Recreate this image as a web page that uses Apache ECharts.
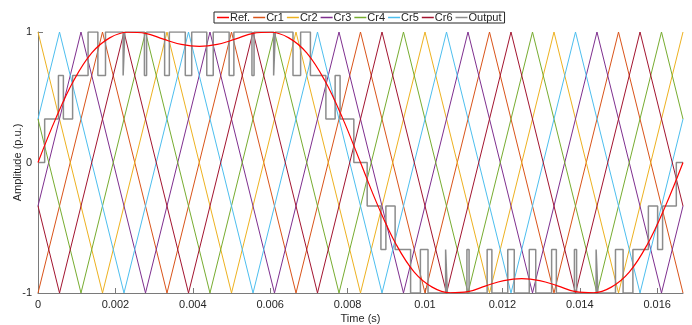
<!DOCTYPE html>
<html>
<head>
<meta charset="utf-8">
<script src="https://cdn.jsdelivr.net/npm/echarts@6/dist/echarts.min.js"></script>
<style>
  html, body { margin: 0; padding: 0; background: #fff; }
  #chart { width: 692px; height: 325px; }
</style>
</head>
<body>
<div id="chart"></div>
<script>
// reference (p.u.) sampled every 10 deg of the 60 Hz cycle
const refTime = [0, 0.000463, 0.000926, 0.001389, 0.001852, 0.002315, 0.002778, 0.003241, 0.003704, 0.004167,
  0.00463, 0.005093, 0.005556, 0.006019, 0.006481, 0.006944, 0.007407, 0.00787, 0.008333,
  0.008796, 0.009259, 0.009722, 0.010185, 0.010648, 0.011111, 0.011574, 0.012037, 0.0125,
  0.012963, 0.013426, 0.013889, 0.014352, 0.014815, 0.015278, 0.015741, 0.016204, 0.016667]
const refValue = [0, 0.34, 0.63, 0.84, 0.955, 0.998, 0.99, 0.945, 0.905, 0.89,
  0.905, 0.945, 0.99, 0.998, 0.955, 0.84, 0.63, 0.34, 0,
  -0.34, -0.63, -0.84, -0.955, -0.998, -0.99, -0.945, -0.905, -0.89,
  -0.905, -0.945, -0.99, -0.998, -0.955, -0.84, -0.63, -0.34, 0]

// carrier corner points
const crTimeA = [0, 0.001667, 0.003333, 0.005, 0.006667, 0.008333, 0.01, 0.011667, 0.013333, 0.015, 0.016667]
const cr1 = [-1, 1, -1, 1, -1, 1, -1, 1, -1, 1, -1]
const cr2 = [1, -1, 1, -1, 1, -1, 1, -1, 1, -1, 1]
const crTimeB = [0, 0.001111, 0.002778, 0.004444, 0.006111, 0.007778, 0.009444, 0.011111, 0.012778, 0.014444, 0.016111, 0.016667]
const cr3 = [-0.3333, 1, -1, 1, -1, 1, -1, 1, -1, 1, -1, -0.3333]
const cr4 = [0.3333, -1, 1, -1, 1, -1, 1, -1, 1, -1, 1, 0.3333]
const crTimeC = [0, 0.000556, 0.002222, 0.003889, 0.005556, 0.007222, 0.008889, 0.010556, 0.012222, 0.013889, 0.015556, 0.016667]
const cr5 = [0.3333, 1, -1, 1, -1, 1, -1, 1, -1, 1, -1, 0.3333]
const cr6 = [-0.3333, -1, 1, -1, 1, -1, 1, -1, 1, -1, 1, -0.3333]

// output switching instants and the level after each one (in steps of 1/3 p.u.)
const outTime = [0, 0.000172, 0.000528, 0.000656, 0.000894, 0.001294, 0.001547, 0.001744,
  0.0022, 0.002244, 0.00275, 0.002806, 0.003272, 0.003394, 0.003806, 0.003972,
  0.004361, 0.004528, 0.004939, 0.005061, 0.005528, 0.005583, 0.006089, 0.006133,
  0.006589, 0.006786, 0.007039, 0.007439, 0.007678, 0.007806, 0.008161,
  0.008506, 0.008861, 0.008989, 0.009228, 0.009628, 0.009881, 0.010078,
  0.010533, 0.010578, 0.011083, 0.011139, 0.011606, 0.011728, 0.012139, 0.012306,
  0.012694, 0.012861, 0.013272, 0.013394, 0.013861, 0.013917, 0.014422, 0.014467,
  0.014922, 0.015119, 0.015372, 0.015772, 0.016011, 0.016139, 0.016494,
  0.016667]
const outLevel = [0, 1, 2, 1, 2, 3, 2, 3,
  2, 3, 2, 3, 2, 3, 2, 3, 2, 3, 2, 3, 2, 3, 2, 3,
  2, 3, 2, 1, 2, 1, 0,
  -1, -2, -1, -2, -3, -2, -3,
  -2, -3, -2, -3, -2, -3, -2, -3, -2, -3, -2, -3, -2, -3, -2, -3,
  -2, -3, -2, -1, -2, -1, 0,
  0]

const tickLabels = ['0', '0.002', '0.004', '0.006', '0.008', '0.01', '0.012', '0.014', '0.016']

const zip = (xs, ys) => xs.map((x, i) => [x, ys[i]])

const outData = []
outTime.forEach((t, i) => {
  if (i > 0) outData.push([t, outLevel[i - 1] / 3])
  outData.push([t, outLevel[i] / 3])
})

const font = 'Liberation Sans, Arial, sans-serif'
const txt = '#262626'
const axisCol = '#7a7a7a'

const line = (name, data, color, width, z) => ({
  name: name,
  type: 'line',
  data: data,
  symbol: 'none',
  silent: true,
  z: z,
  itemStyle: {color: color},
  lineStyle: {color: color, width: width}
})

const chart = echarts.init(document.getElementById('chart'))
chart.setOption({
  animation: false,
  grid: {left: 38, right: 9, top: 32, bottom: 32, containLabel: false, outerBoundsMode: 'none'},
  legend: {
    left: 214,
    top: 12,
    padding: [0, 3],
    icon: 'rect',
    itemWidth: 12,
    itemHeight: 1.5,
    itemGap: 3,
    borderColor: '#262626',
    borderWidth: 1,
    borderRadius: 0,
    backgroundColor: '#fff',
    textStyle: {fontFamily: font, fontSize: 11, color: txt, padding: [0, 0, 0, -4]},
    data: ['Ref.', 'Cr1', 'Cr2', 'Cr3', 'Cr4', 'Cr5', 'Cr6', 'Output']
  },
  xAxis: {
    type: 'value',
    min: 0,
    max: 1 / 60,
    interval: 0.002,
    name: 'Time (s)',
    nameLocation: 'middle',
    nameGap: 20,
    nameMoveOverlap: false,
    nameTextStyle: {fontFamily: font, fontSize: 11, color: txt},
    axisLine: {onZero: false, lineStyle: {color: axisCol}},
    axisTick: {inside: true, length: 5, lineStyle: {color: axisCol}},
    axisLabel: {
      fontFamily: font, fontSize: 11, color: txt, margin: 6, showMaxLabel: false,
      formatter: (v) => tickLabels[Math.round(v / 0.002)] || ''
    },
    splitLine: {show: false}
  },
  yAxis: {
    type: 'value',
    min: -1,
    max: 1,
    interval: 1,
    name: 'Amplitude (p.u.)',
    nameLocation: 'middle',
    nameGap: 15,
    nameMoveOverlap: false,
    nameTextStyle: {fontFamily: font, fontSize: 11, color: txt},
    axisLine: {show: true, onZero: false, lineStyle: {color: axisCol}},
    axisTick: {show: true, inside: true, length: 5, lineStyle: {color: axisCol}},
    axisLabel: {fontFamily: font, fontSize: 11, color: txt, margin: 6},
    splitLine: {show: false}
  },
  series: [
    line('Ref.', zip(refTime, refValue), '#ff0000', 1.2, 10),
    line('Cr1', zip(crTimeA, cr1), '#D95319', 1, 2),
    line('Cr2', zip(crTimeA, cr2), '#EDB120', 1, 2),
    line('Cr3', zip(crTimeB, cr3), '#7E2F8E', 1, 2),
    line('Cr4', zip(crTimeB, cr4), '#77AC30', 1, 2),
    line('Cr5', zip(crTimeC, cr5), '#4DBEEE', 1, 2),
    line('Cr6', zip(crTimeC, cr6), '#A2142F', 1, 2),
    line('Output', outData, '#8c8c8c', 1.5, 5)
  ]
})
chart.setOption({series: [{smooth: 0.4}]})
</script>
</body>
</html>
